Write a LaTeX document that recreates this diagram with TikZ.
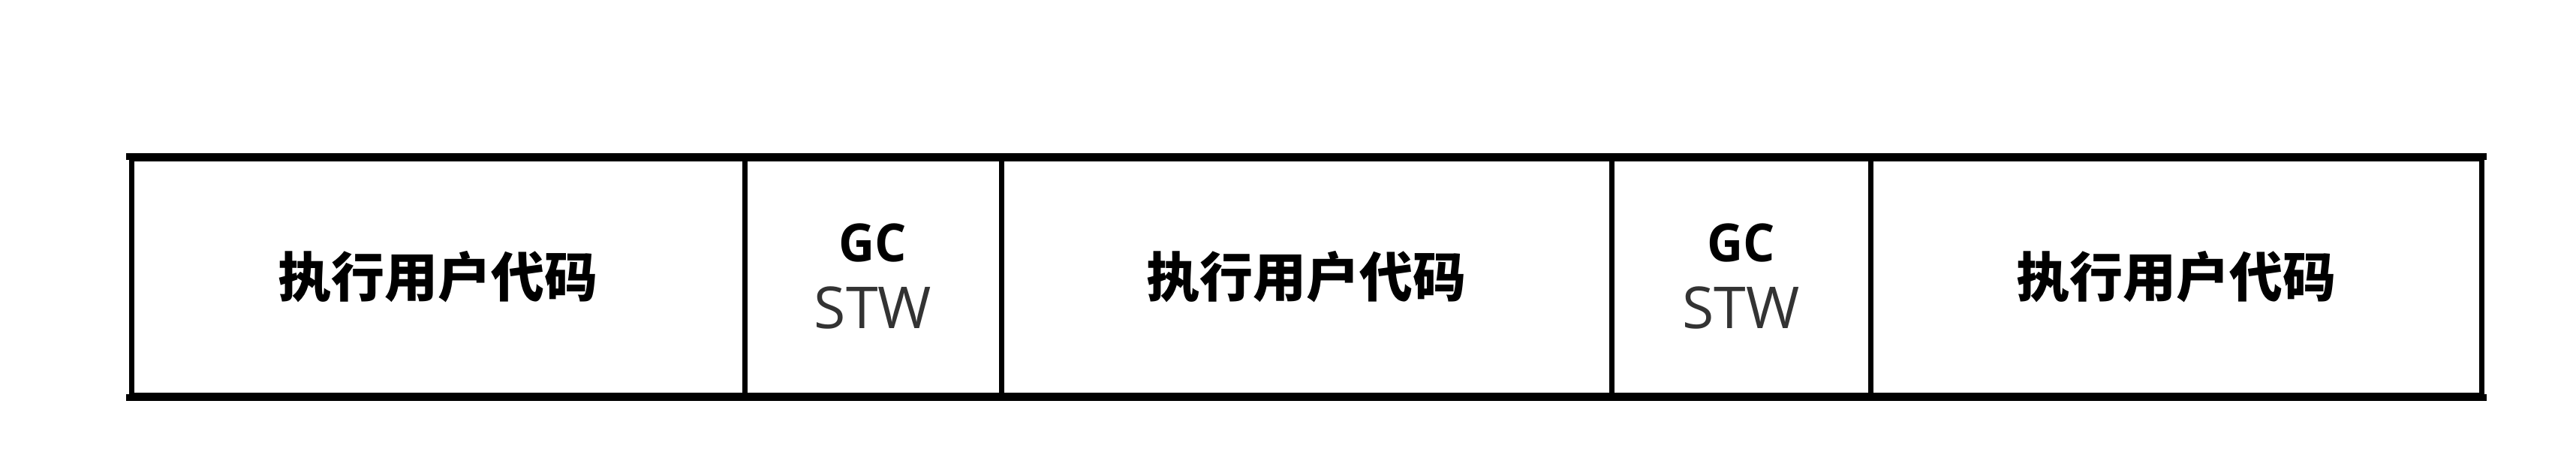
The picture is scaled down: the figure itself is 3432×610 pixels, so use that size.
\documentclass[tikz,border=0pt]{standalone}
\usepackage{fontspec}
\setmainfont{Open Sans}
\newfontfamily\cjk{Noto Sans CJK SC}
\definecolor{stwgray}{HTML}{333333}
\begin{document}
\begin{tikzpicture}[x=1pt,y=1pt,
  seg/.style={draw=black,line width=7pt,fill=white,rectangle,inner sep=0pt,
    minimum height=314.5pt},
  cn/.style={font=\cjk\bfseries\fontsize{71}{80}\selectfont,text=black},
  gclbl/.style={anchor=base,inner sep=0pt,font=\bfseries\fontsize{70}{80}\selectfont,text=black},
  stwlbl/.style={anchor=base,inner sep=0pt,font=\fontsize{77}{88}\selectfont,text=stwgray},
  hline/.style={line width=9pt,line cap=butt}]
\useasboundingbox (0,0) rectangle (3432,-610);
\fill[white] (0,0) rectangle (3432,-610);
\node[seg,cn,minimum width=817pt] (u1) at (583.5,-368.75) {执行用户代码};
\node[seg,minimum width=342pt] (gc1) at (1163,-368.75) {};
\node[seg,cn,minimum width=813pt] (u2) at (1740.5,-368.75) {执行用户代码};
\node[seg,minimum width=345pt] (gc2) at (2319.5,-368.75) {};
\node[seg,cn,minimum width=814pt] (u3) at (2899,-368.75) {执行用户代码};
\node[gclbl,xscale=0.95] (g1) at (1163,-348) {GC};
\node[stwlbl] (s1) at (1163,-437) {STW};
\node[gclbl,xscale=0.95] (g2) at (2319.5,-348) {GC};
\node[stwlbl] (s2) at (2319.5,-437) {STW};
\draw[hline] ([xshift=-3.5pt]u1.north west) -- ([xshift=3.5pt]u3.north east);
\draw[hline] ([xshift=-3.5pt]u1.south west) -- ([xshift=3.5pt]u3.south east);
\end{tikzpicture}
\end{document}
